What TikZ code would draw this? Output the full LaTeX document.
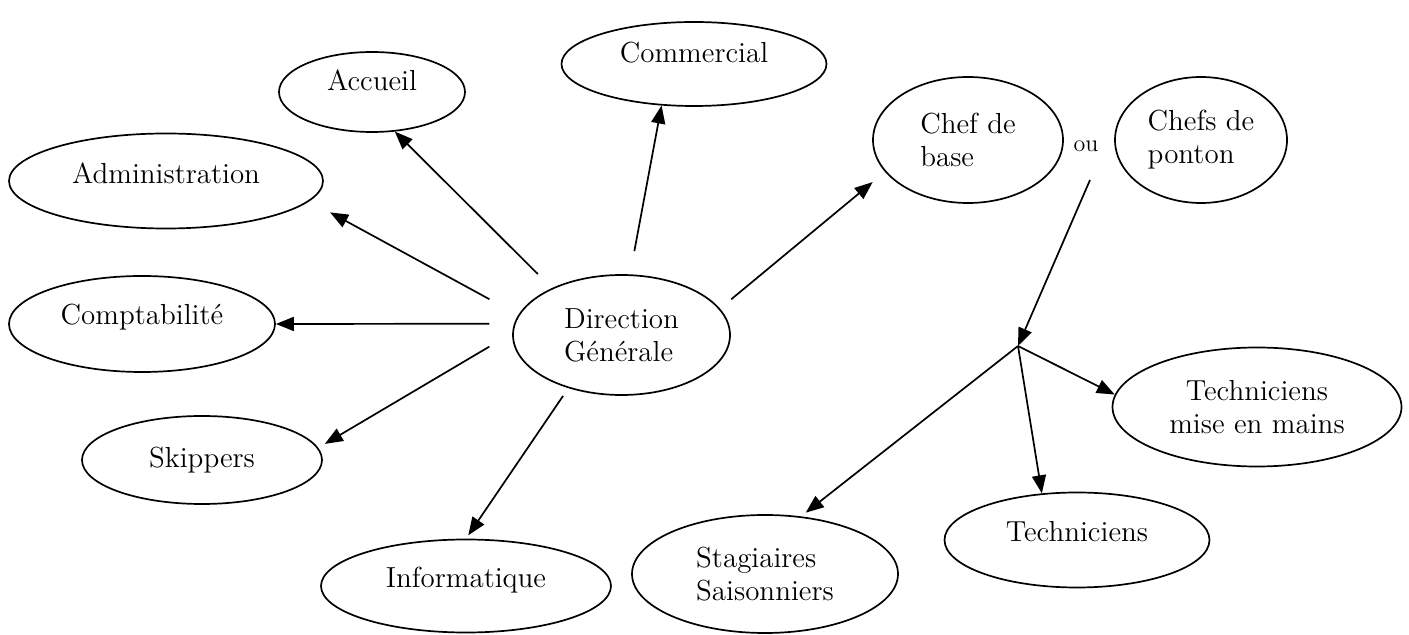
\documentclass[tikz,border=0pt]{standalone}
\usetikzlibrary{shapes.geometric,arrows.meta}
\begin{document}
\begin{tikzpicture}[x = 0.5pt, y = -0.5pt,
  >={Triangle[length=9pt,width=7pt]},
  service/.style = {ellipse, draw, line width=0.85pt, inner sep=0pt, font=\fontsize{14.5}{16.5}\selectfont},
  fl/.style = {->, line width=0.85pt}]
\useasboundingbox (0,0) rectangle (1409,635);
\node [service, minimum width=108.5pt, minimum height=60pt, align=left] (dir) at (621.5,335) {Direction\\Générale};
\node [service, minimum width=93pt, minimum height=40pt, text depth=12pt] (acc) at (372,92) {Accueil};
\node [service, minimum width=132.5pt, minimum height=42pt, text depth=12pt] (com) at (694,64) {Commercial};
\node [service, minimum width=157pt, minimum height=47.5pt, text depth=8pt] (adm) at (166,181) {Administration};
\node [service, minimum width=133pt, minimum height=48pt, text depth=10pt] (cpt) at (142,324) {Comptabilité};
\node [service, minimum width=120pt, minimum height=44pt] (skp) at (202,460) {Skippers};
\node [service, minimum width=145pt, minimum height=46.5pt, text depth=9pt] (inf) at (466,586) {Informatique};
\node [service, minimum width=95pt, minimum height=63pt, align=left] (chb) at (968,140) {Chef de\\base};
\node [service, minimum width=86pt, minimum height=63pt, align=left] (chp) at (1201,140) {Chefs de\\ponton};
\node [font=\fontsize{12}{14}\selectfont] (ou) at (1086,146) {ou};
\node [service, minimum width=144.5pt, minimum height=59.5pt, align=center] (tmm) at (1257,407) {Techniciens\\mise en mains};
\node [service, minimum width=132.5pt, minimum height=47.5pt, text depth=9pt] (tec) at (1077,540) {Techniciens};
\node [service, minimum width=133pt, minimum height=59pt, align=left] (stg) at (765,574) {Stagiaires\\Saisonniers};
\coordinate (split) at (1090,180);
\coordinate (jn) at (1018,346);
\draw [fl, shorten <=9.9pt] (dir.146.4) -- (acc.-60);
\draw [fl, shorten <=11.8pt] (dir.82.8) -- (com.-128);
\draw [fl, shorten <=16.4pt, shorten >=11.75pt] (dir.169.2) -- (adm.-8.4);
\draw [fl, shorten <=12.4pt] (dir.174.1) -- (cpt.east);
\draw [fl, shorten <=13.3pt, shorten >=3.8pt] (dir.179.3) -- (skp.6.6);
\draw [fl, shorten <=4.7pt, shorten >=2pt] (dir.-135.5) -- (inf.north);
\draw [fl, shorten <=7.3pt, shorten >=8pt] (dir.15.4) -- (chb.-159.6);
\draw [fl] (split) -- (jn);
\draw [fl] (jn) -- (tmm.175);
\draw [fl] (jn) -- (tec.127);
\draw [fl, shorten >=3pt] (jn) -- (stg.58);
\end{tikzpicture}
\end{document}
